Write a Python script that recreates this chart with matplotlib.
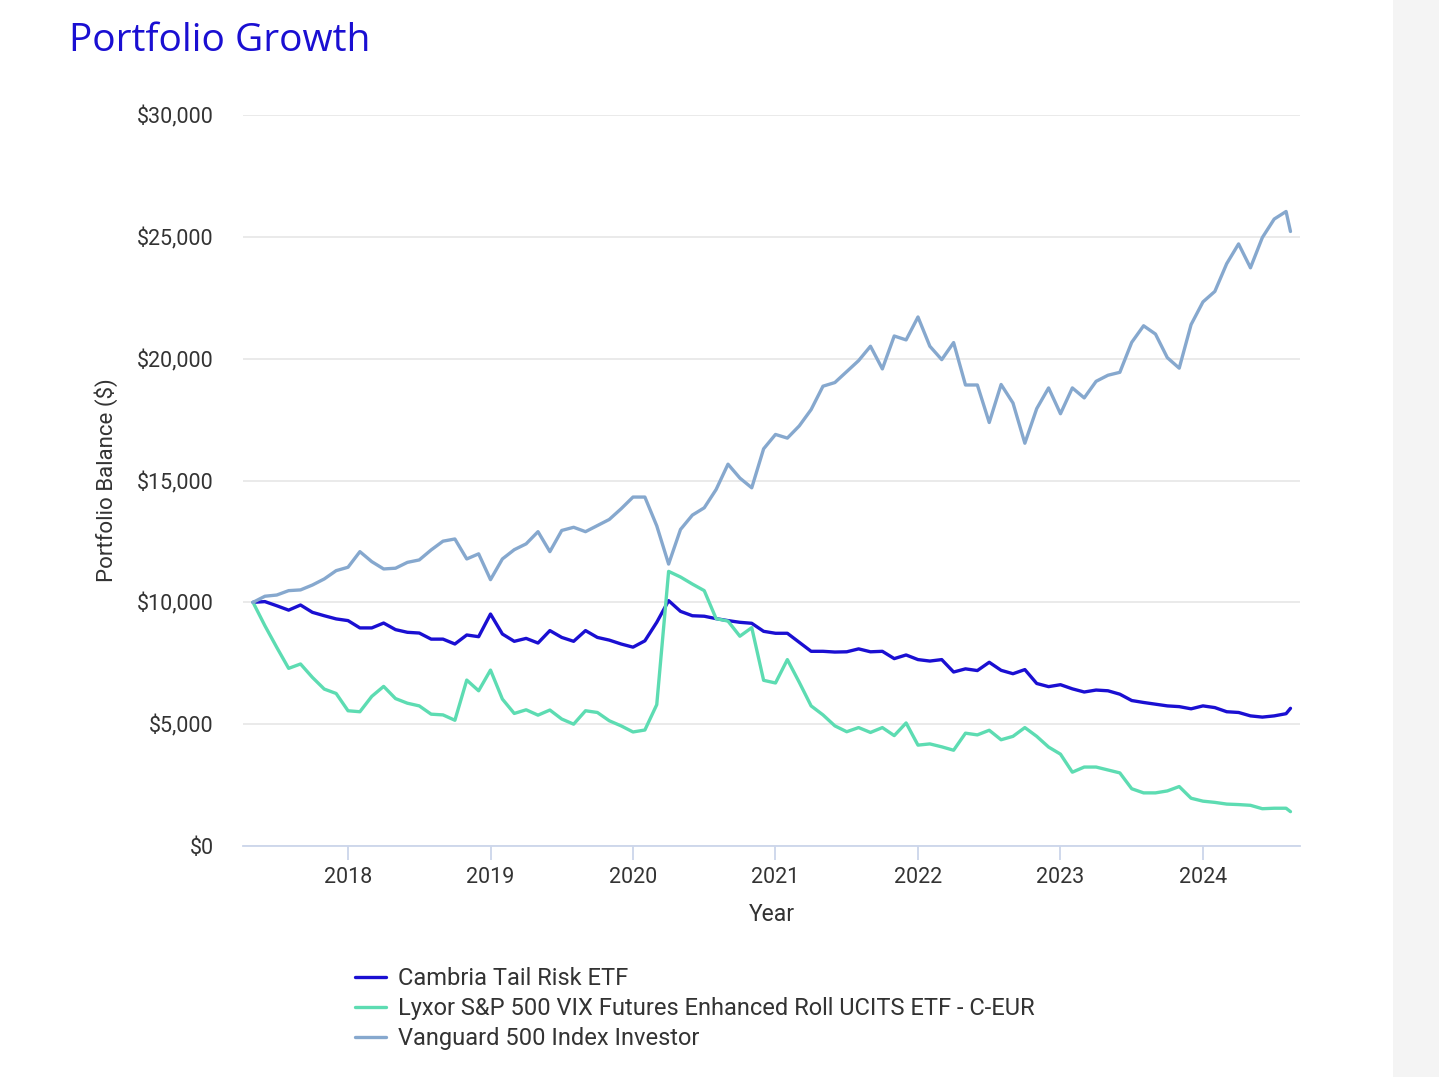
import numpy as np
import matplotlib.pyplot as plt
from matplotlib.patches import Rectangle

plt.rcParams['font.family'] = ['Roboto', 'DejaVu Sans']

# monthly balances in $1000s, May 2017 .. Aug 2024, last point mid-August
start_year = 2017 + 4 / 12
last_offset = 87.37

cambria = [10.0, 10.03, 9.86, 9.68, 9.89, 9.59, 9.45, 9.32, 9.25, 8.95,
           8.95, 9.15, 8.88, 8.77, 8.74, 8.49, 8.49, 8.29, 8.66, 8.59,
           9.52, 8.70, 8.40, 8.52, 8.33, 8.84, 8.56, 8.40, 8.84, 8.56,
           8.45, 8.29, 8.16, 8.42, 9.18, 10.07, 9.63, 9.45, 9.43, 9.33,
           9.25, 9.18, 9.14, 8.81, 8.73, 8.73, 8.36, 7.99, 7.99, 7.96,
           7.97, 8.09, 7.97, 7.99, 7.69, 7.84, 7.65, 7.59, 7.65, 7.14,
           7.27, 7.20, 7.54, 7.21, 7.07, 7.24, 6.67, 6.54, 6.62, 6.45,
           6.32, 6.40, 6.37, 6.23, 5.97, 5.89, 5.82, 5.75, 5.72, 5.63,
           5.75, 5.68, 5.51, 5.48, 5.34, 5.29, 5.34, 5.43, 5.65]

lyxor = [10.0, 9.04, 8.15, 7.29, 7.47, 6.92, 6.44, 6.26, 5.55, 5.51,
         6.14, 6.55, 6.05, 5.86, 5.75, 5.41, 5.38, 5.16, 6.81, 6.37,
         7.22, 6.03, 5.44, 5.59, 5.37, 5.58, 5.21, 5.00, 5.55, 5.48,
         5.14, 4.93, 4.68, 4.76, 5.80, 11.27, 11.04, 10.75, 10.48, 9.33,
         9.23, 8.61, 8.96, 6.80, 6.69, 7.65, 6.72, 5.75, 5.38, 4.93,
         4.69, 4.86, 4.66, 4.86, 4.53, 5.05, 4.14, 4.19, 4.07, 3.93,
         4.63, 4.56, 4.75, 4.36, 4.50, 4.86, 4.50, 4.06, 3.77, 3.03,
         3.24, 3.24, 3.12, 3.00, 2.35, 2.18, 2.18, 2.26, 2.44, 1.96,
         1.84, 1.79, 1.72, 1.70, 1.67, 1.53, 1.55, 1.55, 1.41]

vanguard = [10.0, 10.25, 10.30, 10.48, 10.51, 10.71, 10.96, 11.30, 11.44, 12.08,
            11.67, 11.37, 11.40, 11.64, 11.74, 12.15, 12.51, 12.60, 11.78, 11.99,
            10.93, 11.78, 12.16, 12.40, 12.90, 12.08, 12.95, 13.08, 12.90, 13.15,
            13.40, 13.84, 14.32, 14.32, 13.14, 11.57, 12.99, 13.58, 13.88, 14.63,
            15.67, 15.10, 14.70, 16.30, 16.89, 16.74, 17.24, 17.91, 18.87, 19.02,
            19.47, 19.92, 20.51, 19.58, 20.93, 20.77, 21.71, 20.51, 19.96, 20.66,
            18.92, 18.92, 17.38, 18.94, 18.18, 16.53, 17.95, 18.80, 17.74, 18.80,
            18.39, 19.07, 19.32, 19.44, 20.67, 21.35, 21.01, 20.04, 19.61, 21.40,
            22.33, 22.76, 23.90, 24.71, 23.73, 24.97, 25.73, 26.04, 25.22]

names = ['Cambria Tail Risk ETF',
         'Lyxor S&P 500 VIX Futures Enhanced Roll UCITS ETF - C-EUR',
         'Vanguard 500 Index Investor']
colors = ['#1a0fd2', '#5ddcb2', '#86a8ce']
years = [2018, 2019, 2020, 2021, 2022, 2023, 2024]
yticks = [0, 5000, 10000, 15000, 20000, 25000, 30000]

offsets = list(range(88)) + [last_offset]
x = start_year + np.array(offsets) / 12

fig = plt.figure(figsize=(14.39, 10.77), dpi=100)
fig.patches.append(Rectangle((1393 / 1439, 0), 46 / 1439, 1, transform=fig.transFigure,
                             facecolor='#f4f4f4', edgecolor='none', zorder=0))
ax = fig.add_axes([243 / 1439, 1 - 846 / 1077, (1300 - 243) / 1439, (846 - 115) / 1077])

for vals, name, c in zip([cambria, lyxor, vanguard], names, colors):
    ax.plot(x, np.array(vals) * 1000, color=c, lw=2.4, label=name,
            solid_joinstyle='round', solid_capstyle='round')

ax.set_xlim(2017.263, 2024.681)
ax.set_ylim(0, 30000)
ax.set_yticks(yticks)
ax.set_yticklabels([f'${v:,}' for v in yticks])
ax.set_xticks(years)
ax.set_xticklabels([str(y) for y in years])
ax.grid(axis='y', color='#e6e6e6', lw=1.2)
ax.set_axisbelow(True)
for s in ['top', 'right', 'left']:
    ax.spines[s].set_visible(False)
ax.spines['bottom'].set_color('#ccd6eb')
ax.spines['bottom'].set_linewidth(1.3)
ax.tick_params(axis='y', length=0, pad=21, labelsize=15.5, labelcolor='#333333')
ax.tick_params(axis='x', length=10, width=1.3, color='#ccd6eb', pad=5,
               labelsize=15.5, labelcolor='#333333')
ax.set_xlabel('Year', fontsize=16.5, color='#333333', labelpad=11)
ax.set_ylabel('Portfolio Balance ($)', fontsize=16, color='#333333', labelpad=14)

fig.text(69 / 1439, 1 - 41 / 1077, 'Portfolio Growth', fontsize=28, color='#1a0fd2',
         family=['Open Sans', 'DejaVu Sans'], fontweight='medium', ha='left', va='center')

ax.legend(loc='upper left', bbox_to_anchor=(334 / 1439, 1 - 946 / 1077),
          bbox_transform=fig.transFigure, frameon=False, fontsize=17,
          handlelength=1.3, handletextpad=0.5, labelspacing=0.3,
          labelcolor='#333333')

fig.savefig('out.png', dpi=100, facecolor='white')
